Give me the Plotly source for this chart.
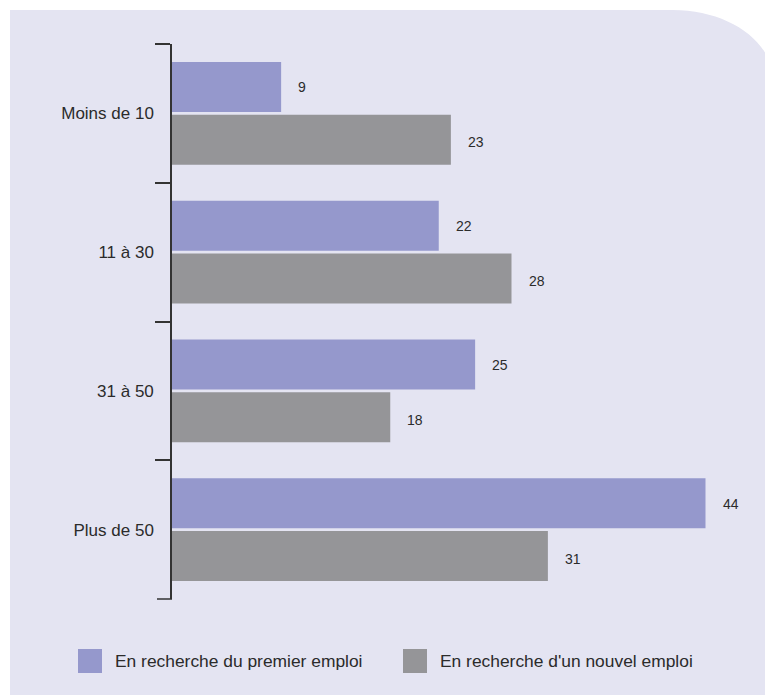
import plotly.graph_objects as go

categories = ["Moins de 10", "11 à 30", "31 à 50", "Plus de 50"]
premier_emploi = [9, 22, 25, 44]
nouvel_emploi = [23, 28, 18, 31]
series_names = ["En recherche du premier emploi", "En recherche d'un nouvel emploi"]

PURPLE = "#9598cc"
GRAY = "#959598"
BG = "#e4e4f2"
TXT = "#2b2b2b"
AXIS = "#333333"
FONT = "Liberation Sans, Arial, sans-serif"

OFF = 8  # default page body margin
W, H = 773 - OFF, 695 - OFF
L = 172 - OFF
T = 44 - OFF
PLOT_BOTTOM = 599 - OFF
XMAX = 48
PW = 582
R = W - L - PW
B = H - PLOT_BOTTOM
PH = PLOT_BOTTOM - T
TICKLEN = 15

def px(x):  # screen x -> paper
    return (x - OFF - L) / PW

def py(y):  # screen y -> paper
    return (PLOT_BOTTOM - (y - OFF)) / PH

fig = go.Figure()
for name, vals, col in [(series_names[0], premier_emploi, PURPLE),
                        (series_names[1], nouvel_emploi, GRAY)]:
    fig.add_trace(go.Bar(
        y=categories, x=vals, name=name, orientation="h",
        marker=dict(color=col, line=dict(width=0)),
        showlegend=False, hoverinfo="skip",
    ))

annotations = []
for vals, shift in [(premier_emploi, 26), (nouvel_emploi, -29)]:
    for c, v in zip(categories, vals):
        annotations.append(dict(
            x=v, y=c, xref="x", yref="y", text=str(v), showarrow=False,
            xanchor="left", yanchor="middle", xshift=15, yshift=shift,
            font=dict(family=FONT, size=14, color=TXT),
        ))

legend_items = [(series_names[0], PURPLE, 78), (series_names[1], GRAY, 403)]
shapes = []
x0, y0, x1, y1 = 10, 10, 780, 700
cx, cy, rx_end = 673, 80, 773
k = 0.5523
path = (f"M {px(x0)},{py(y0)} L {px(cx)},{py(y0)} "
        f"C {px(cx + (rx_end - cx) * k)},{py(y0)} {px(rx_end)},{py(cy - (cy - y0) * k)} {px(rx_end)},{py(cy)} "
        f"L {px(x1)},{py(cy)} L {px(x1)},{py(y1)} L {px(x0)},{py(y1)} Z")
shapes.append(dict(type="path", path=path, xref="paper", yref="paper",
                   fillcolor=BG, line=dict(width=0), layer="below"))
# closing boundary tick at the bottom end of the category axis
shapes.append(dict(type="line", xref="paper", yref="paper",
                   x0=-TICKLEN / PW, x1=0, y0=0, y1=0,
                   line=dict(color=AXIS, width=1.5)))
for name, col, lx in legend_items:
    shapes.append(dict(type="rect", xref="paper", yref="paper",
                       x0=px(lx), x1=px(lx + 24), y0=py(673), y1=py(649),
                       fillcolor=col, line=dict(width=0)))
    annotations.append(dict(x=px(lx + 35), y=py(661), xref="paper", yref="paper",
                            text=name, showarrow=False, xanchor="left", yanchor="middle",
                            font=dict(family=FONT, size=17.4, color=TXT)))

fig.update_layout(
    width=W, height=H,
    margin=dict(l=L, r=R, t=T, b=B),
    paper_bgcolor="white", plot_bgcolor="rgba(0,0,0,0)",
    barmode="group", bargap=0.24, bargroupgap=0.05,
    showlegend=False,
    xaxis=dict(range=[0, XMAX], visible=False, fixedrange=True),
    yaxis=dict(
        type="category", categoryorder="array", categoryarray=categories,
        autorange="reversed", tickson="boundaries",
        showline=True, linecolor=AXIS, linewidth=1.5,
        ticks="outside", ticklen=TICKLEN, tickwidth=1.5, tickcolor=AXIS,
        ticklabelstandoff=13,
        showgrid=False, zeroline=False,
        tickfont=dict(family=FONT, size=17, color=TXT), fixedrange=True,
    ),
    shapes=shapes,
    annotations=annotations,
    hovermode=False,
)

fig.write_html("out.html", config=dict(displayModeBar=False))
